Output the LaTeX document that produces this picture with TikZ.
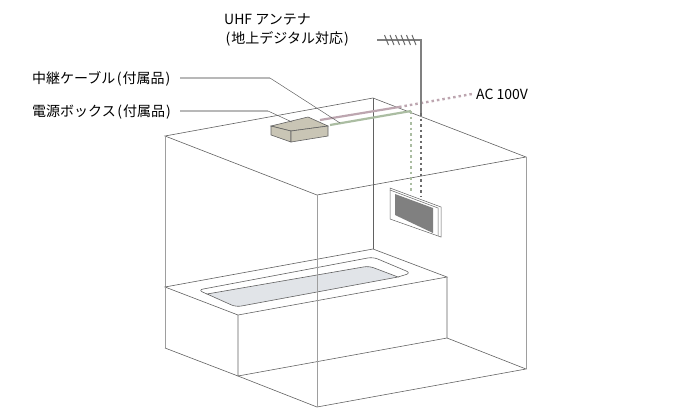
\documentclass[tikz,border=0pt]{standalone}
\usepackage{fontspec}
\setmainfont{Noto Sans CJK JP}
\definecolor{pinkcable}{HTML}{BDA6B0}
\definecolor{greencable}{HTML}{ABBDA2}
\definecolor{boxfill}{HTML}{C9C5B5}
\definecolor{tubfill}{HTML}{E1E4E8}
\tikzset{
  wall/.style={draw=black!62, line width=0.6pt},
  wallsoft/.style={draw=black!38, line width=0.9pt},
  lead/.style={draw=black!28, line width=1.1pt},
  leadthin/.style={draw=black!62, line width=0.5pt},
  cable/.style={line width=2.2pt},
  dots/.style={line width=2.4pt, dash pattern=on 2.5pt off 3pt},
  lbl/.style={font=\fontsize{14pt}{19pt}\selectfont, inner sep=0pt, anchor=west, align=left}
}
\begin{document}
\begin{tikzpicture}[x=1pt,y=-1pt]
\useasboundingbox (0,0) rectangle (690,408);

% labels
\node[lbl] (uhf) at (224,30) {UHF アンテナ\\\hspace{1.5pt}(\hspace{1pt}地上デジタル対応\hspace{1pt})};
\node[lbl] (relay) at (32,79) {中継ケーブル\hspace{1.5pt}(\hspace{1pt}付属品\hspace{1pt})};
\node[lbl] (power) at (32,112) {電源ボックス\hspace{1.5pt}(\hspace{1pt}付属品\hspace{1pt})};
\node[lbl] (ac) at (476,94) {AC 100V};

% room
\coordinate (r1) at (165,136);
\coordinate (r2) at (373,98);
\coordinate (r3) at (526,157);
\coordinate (r4) at (317,195);
\coordinate (f1) at (165,287);
\coordinate (f2) at (373,249);
\coordinate (f3) at (526,369);
\coordinate (f4) at (317,407);
\draw[wall] (r1) -- (r2) -- (r3) -- (r4) -- cycle;
\draw[wall] (r2) -- (f2);
\draw[wallsoft] (r3) -- (f3);
\draw[wallsoft] (r1) -- (f1);

% bathtub
\coordinate (b1) at (238,315);
\coordinate (b2) at (447,277);
\coordinate (b3) at (447,338);
\coordinate (b4) at (238,376);
\coordinate (b5) at (165,348);
\draw[wall] (f1) -- (f2) -- (b2) -- (b1) -- cycle;
\draw[wall] (b1) -- (b4) -- (b3) -- (b2);
\draw[wallsoft] (f1) -- (b5);
\draw[wall] (b5) -- (b4) -- (f4) -- (f3) -- (b3);
\draw[wall, rounded corners=5pt] (207,294) -- (198,290) -- (373,257) -- (411,273) -- (398,277);
\draw[wall, fill=tubfill] (207,294) [rounded corners=5pt] -- (236,307) [sharp corners] -- (398,277) [rounded corners=5pt] -- (369,266) [sharp corners] -- cycle;
\draw[wallsoft] (r4) -- (f4);

% cables
\draw[cable, pinkcable] (320,120) -- (399,107);
\draw[dots, pinkcable] (399,107) -- (472,94);
\draw[cable, greencable] (330,125) -- (411,111);
\draw[dots, greencable] (411,111) -- (411,192);
\draw[draw=black!50, line width=1.5pt] (377,40) -- (421,40) -- (421,113);
\draw[dots, draw=black!58, line width=1.8pt] (421,113) -- (421,197);
\foreach \i in {0,...,5} \draw[draw=black!60, line width=1pt] (384.5+\i*5.5,35) -- (388.5+\i*5.5,45);

% power box
\draw[wall, fill=boxfill] (271,126) -- (308,117) -- (328,126) -- (291,131) -- cycle;
\draw[wall, fill=boxfill] (271,126) -- (291,131) -- (291,142) -- (271,135) -- cycle;
\draw[wall, fill=boxfill] (291,131) -- (328,126) -- (328,136) -- (291,142) -- cycle;

% monitor
\draw[wall, line width=0.5pt] (390,188) -- (441,207) -- (441,237) -- (390,219) -- cycle;
\draw[wall, line width=0.5pt] (390,190) -- (438,208) -- (438,236);
\draw[fill=black!50, draw=none] (395,194) -- (433,208) -- (433,233) -- (395,215) -- cycle;

% leaders
\coordinate (relaybend) at (270,78);
\coordinate (relayend) at (340,123);
\coordinate (powerbend) at (268,111);
\coordinate (powerend) at (292,122);
\draw[lead] (180,78) -- (relaybend);
\draw[leadthin] (relaybend) -- (relayend);
\draw[lead] (180,111) -- (powerbend);
\draw[leadthin] (powerbend) -- (powerend);
\end{tikzpicture}
\end{document}
